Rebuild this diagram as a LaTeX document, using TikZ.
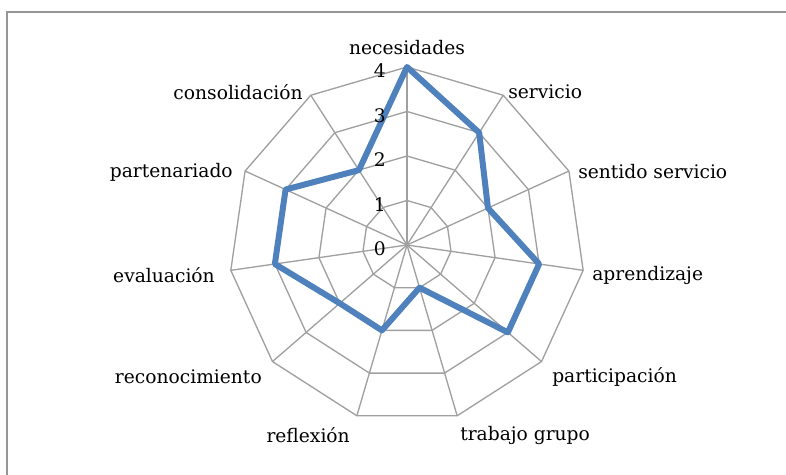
\documentclass[tikz,border=0pt]{standalone}
\usepackage{fontspec}
\setmainfont{DejaVu Serif}

\begin{document}
\begin{tikzpicture}[x=0.75pt,y=0.75pt,
  rejilla/.style={draw={rgb, 255:red, 160; green, 160; blue, 160 }, line width=1},
  serie/.style={draw={rgb, 255:red, 79; green, 129; blue, 189 }, line width=4.5, line join=round},
  marco/.style={draw={rgb, 255:red, 150; green, 150; blue, 150 }, line width=1.2},
  texto/.style={inner sep=0pt, font=\fontsize{14}{16}\selectfont}]
\useasboundingbox (0,0) rectangle (786,475);
\draw[marco] (7,-20) -- (7,463) -- (800,463);
% rejilla
\begin{scope}[shift={(407,230)}]
\foreach \l in {1,...,4}
  \draw[rejilla] (90:{\l*44.5}) \foreach \k in {1,...,10} { -- ({90-\k*360/11}:{\l*44.5}) } -- cycle;
\foreach \k in {0,...,10}
  \draw[rejilla] (0,0) -- ({90-\k*360/11}:178);
% serie
\draw[serie] (90:178) \foreach \v [count=\k from 1] in {3,2,3,3,1,2,2,3,3,2} { -- ({90-\k*360/11}:{\v*44.5}) } -- cycle;
% escala
\foreach \l in {0,...,4}
  \node[texto, anchor=east] (esc\l) at (-21,{\l*44.5-4}) {\l};
\end{scope}
% categorias
\node[texto] (necesidades) at (407,427) {necesidades};
\node[texto, anchor=west] (servicio) at (508,383) {servicio};
\node[texto, anchor=west] (sentido) at (578,303) {sentido servicio};
\node[texto, anchor=west] (aprendizaje) at (592,200) {aprendizaje};
\node[texto, anchor=west] (participacion) at (552,98) {participación};
\node[texto, anchor=west] (trabajo) at (460,40) {trabajo grupo};
\node[texto, anchor=east] (reflexion) at (350,40) {reflexión};
\node[texto, anchor=east] (reconocimiento) at (262,98) {reconocimiento};
\node[texto, anchor=east] (evaluacion) at (215,200) {evaluación};
\node[texto, anchor=east] (partenariado) at (233,303) {partenariado};
\node[texto, anchor=east] (consolidacion) at (303,383) {consolidación};
\end{tikzpicture}
\end{document}
